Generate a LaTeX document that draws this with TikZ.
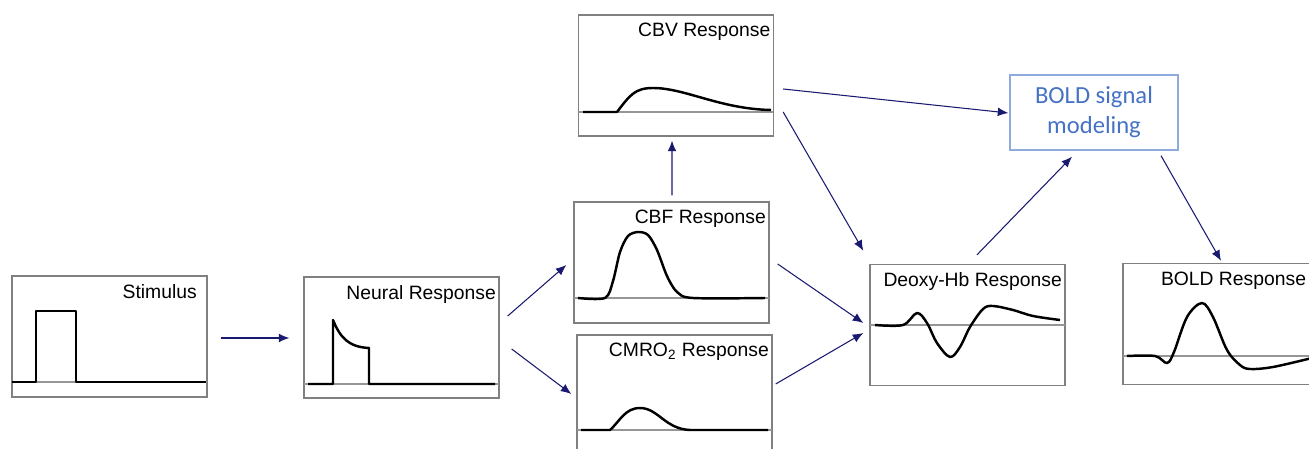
\documentclass[tikz,border=0pt]{standalone}
\usepackage{fontspec}
\setmainfont{Liberation Sans}
\newfontfamily\calibri{Carlito}
\usetikzlibrary{arrows.meta}
\definecolor{frameGray}{RGB}{128,128,128}
\definecolor{axisGray}{RGB}{150,150,150}
\definecolor{arrowNavy}{RGB}{25,25,112}
\definecolor{modelBlue}{RGB}{143,170,220}
\definecolor{modelText}{RGB}{68,114,196}

\begin{document}
\begin{tikzpicture}[x=0.02cm,y=-0.02cm,
    resp/.style={draw=frameGray,line width=0.8pt,minimum width=3.9cm,minimum height=2.42cm,inner sep=0pt},
    title/.style={anchor=north east,inner sep=2pt,yshift=-3pt,font=\fontsize{11}{13}\selectfont},
    curve/.style={line width=1.4pt,line join=round},
    zero/.style={draw=axisGray,line width=0.6pt},
    link/.style={draw=arrowNavy,line width=0.6pt,-{Latex[length=6pt,width=5pt]}}]
        \useasboundingbox (0,0) rectangle (1309,449);
        \clip (0,0) rectangle (1309,449);

        \node[resp,label={[title,xshift=-4pt]north east:Stimulus}] (stim) at (109.5,336.5) {};
        \node[resp,label={[title]north east:Neural Response}] (neural) at (401.5,337.5) {};
        \node[resp,label={[title]north east:CBV Response}] (cbv) at (676,75.5) {};
        \node[resp,label={[title]north east:CBF Response}] (cbf) at (671.5,262.5) {};
        \node[resp,label={[title]north east:CMRO\textsubscript{2} Response}] (cmro) at (674.5,395.5) {};
        \node[resp,label={[title]north east:Deoxy-Hb Response}] (deoxy) at (967.5,325) {};
        \node[resp,label={[title,xshift=-5pt]north east:BOLD Response}] (bold) at (1220.5,324) {};
        \node[draw=modelBlue,line width=0.8pt,minimum width=3.36cm,minimum height=1.5cm,align=center,text=modelText,font=\calibri\fontsize{14}{17}\selectfont] (model) at (1094,112.5) {BOLD signal\\modeling};

        \draw[zero] (12,382) -- (207,382);
        \draw[curve] (12,382) -- (36,382) -- (36,311) -- (76,311) -- (76,382) -- (206,382);

        \draw[zero] (304,384) -- (499,384);
        \draw[curve] (308,384) -- (333,384) -- (333,320) .. controls (340,337) and (348,347) .. (369,348) -- (369,384) -- (495,384);

        \draw[zero] (579,112) -- (773,112);
        \draw[curve] (583,112) -- (617,112) .. controls (630,95) and (635,88) .. (653,88) .. controls (685,88) and (720,109) .. (771,110);

        \draw[zero] (574,298) -- (769,298);
        \draw[curve] plot[smooth,tension=0.5] coordinates {(578,298) (605,298) (613,281) (620,252) (628,236) (638,232) (648,235) (657,250) (667,276) (677,292) (693,298) (765,298)};

        \draw[zero] (577,430) -- (772,430);
        \draw[curve] (581,430) -- (610,430) .. controls (620,421) and (625,408) .. (640,408) .. controls (658,408) and (665,429) .. (690,430) -- (768,430);

        \draw[zero] (870,325) -- (1065,325);
        \draw[curve] plot[smooth,tension=0.55] coordinates {(875,325) (903,325) (917,313) (927,323) (937,343) (950,357) (960,347) (970,327) (983,309) (993,306) (1013,310) (1033,316) (1060,320)};

        \draw[zero] (1123,356) -- (1318,356);
        \draw[curve] plot[smooth,tension=0.55] coordinates {(1127,356) (1155,356) (1167,363) (1174,352) (1187,317) (1202,303) (1213,317) (1227,350) (1240,365) (1250,369) (1273,367) (1312,358)};

        \draw[link] ([shift={(13,1.5)}]stim.east) -- ([shift={(-14,0.5)}]neural.west);
        \draw[link] ([shift={(8,-21.5)}]neural.east) -- ([shift={(-7,2.5)}]cbf.west);
        \draw[link] ([shift={(12,11.5)}]neural.east) -- ([shift={(-5,-1.5)}]cmro.west);
        \draw[link] ([shift={(0.5,-6)}]cbf.north) -- ([shift={(-4,4)}]cbv.south);
        \draw[link] ([shift={(9,36.5)}]cbv.east) -- ([shift={(-6,-13)}]deoxy.north west);
        \draw[link] ([shift={(9,13.5)}]cbv.east) -- ([shift={(-1,0.5)}]model.west);
        \draw[link] ([shift={(8,1.5)}]cbf.east) -- ([shift={(-6,-2)}]deoxy.west);
        \draw[link] ([shift={(3,-11.5)}]cmro.east) -- ([shift={(-6,8)}]deoxy.west);
        \draw[link] ([shift={(9.5,-9)}]deoxy.north) -- ([shift={(-22,6)}]model.south);
        \draw[link] ([shift={(67,5)}]model.south) -- ([shift={(0.5,-2)}]bold.north);
\end{tikzpicture}
\end{document}
